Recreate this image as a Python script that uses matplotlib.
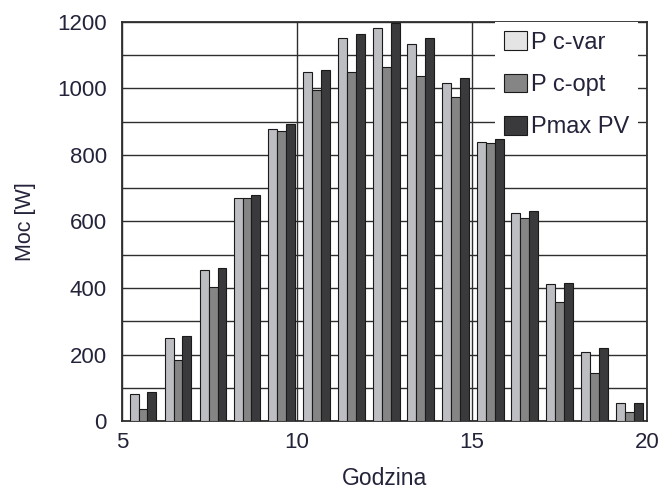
import numpy as np
import matplotlib.pyplot as plt
from matplotlib.ticker import MultipleLocator

plt.rcParams['font.family'] = ['Liberation Sans', 'DejaVu Sans']

# group centres (hour) and power values
godzina = [5.6, 6.6, 7.6, 8.57, 9.55, 10.55, 11.55, 12.55, 13.53, 14.52,
           15.52, 16.5, 17.5, 18.5, 19.5]
p_c_var = [80, 250, 454, 672, 879, 1049, 1151, 1181, 1133, 1018,
           840, 625, 412, 208, 55]
p_c_opt = [36, 183, 404, 672, 872, 995, 1049, 1066, 1038, 975,
           835, 610, 359, 143, 28]
pmax_pv = [86, 256, 461, 680, 893, 1055, 1164, 1198, 1151, 1031,
           847, 632, 414, 220, 55]

labels = ["P c-var", "P c-opt", "Pmax PV"]
colors = ["#bdbec2", "#858585", "#3a3a3c"]
text_col = "#23233a"

fig = plt.figure(figsize=(6.61, 4.92), dpi=100)
ax = fig.add_axes([0.1846, 0.1443, 0.7944, 0.811])

x = np.array(godzina)
w = 0.255
for i, (vals, lab, c) in enumerate(zip([p_c_var, p_c_opt, pmax_pv], labels, colors)):
    ax.bar(x + (i - 1) * w, vals, width=w, color=c, edgecolor="#1a1a1a",
           linewidth=0.8, label=lab, zorder=3)

ax.set_xlim(5, 20)
ax.set_ylim(0, 1200)
ax.set_xticks([5, 10, 15, 20])
ax.set_yticks(range(0, 1201, 200))
ax.yaxis.set_minor_locator(MultipleLocator(100))
ax.grid(True, which="both", color="#2e2e2e", linewidth=1.0, zorder=0)
ax.set_axisbelow(True)
ax.tick_params(axis="both", which="both", length=0, labelsize=16,
               labelcolor=text_col)
ax.tick_params(axis="y", pad=11)
ax.tick_params(axis="x", pad=8)
for s in ax.spines.values():
    s.set_color("#2e2e2e")
    s.set_linewidth(1.3)

ax.set_xlabel("Godzina", fontsize=16.5, color=text_col, labelpad=10)
ax.set_ylabel("Moc [W]", fontsize=15.5, color=text_col, labelpad=15)

leg = ax.legend(loc="upper left", bbox_to_anchor=(0.71, 1.0), fontsize=17,
                frameon=True, facecolor="white", edgecolor="none",
                framealpha=1, fancybox=False, borderpad=0.4,
                labelspacing=0.83, handlelength=0.97, handleheight=0.85,
                handletextpad=0.15, borderaxespad=0)
leg.set_zorder(2.5)  # bars stay on top of the legend box
leg.legend_handles[0].set_facecolor("#e4e4e4")
for t in leg.get_texts():
    t.set_color(text_col)

fig.savefig("out.png", dpi=100)
